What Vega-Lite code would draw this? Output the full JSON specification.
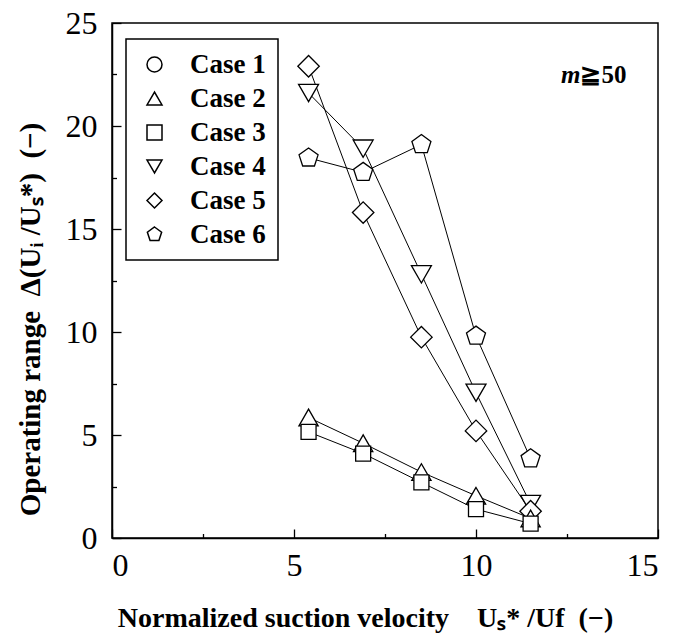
{
  "$schema": "https://vega.github.io/schema/vega-lite/v6.json",
  "autosize": {"type": "none"},
  "padding": {"left": 112, "top": 23, "right": 16, "bottom": 101},
  "width": 546,
  "height": 515,
  "background": "white",
  "config": {
    "view": {"stroke": "black", "strokeWidth": 1.5},
    "axis": {
      "grid": false,
      "domainColor": "black",
      "domainWidth": 1.5,
      "tickColor": "black",
      "tickWidth": 1.3,
      "tickSize": {"condition": {"test": "datum.value % 5 == 0", "value": -9}, "value": -4.5},
      "labelFont": "Liberation Serif",
      "labelFontSize": 32,
      "labelColor": "black",
      "titleFont": "Liberation Serif",
      "titleFontWeight": "bold",
      "titleFontSize": 28,
      "titleColor": "black"
    },
    "legend": {
      "orient": "none",
      "legendX": 14,
      "legendY": 16,
      "strokeColor": "black",
      "strokeWidth": 1.5,
      "fillColor": "white",
      "padding": 12,
      "symbolSize": 225,
      "symbolOffset": 3,
      "labelOffset": 22,
      "labelFont": "Liberation Serif",
      "labelFontWeight": "bold",
      "labelFontSize": 27,
      "labelColor": "black",
      "rowPadding": 6
    }
  },
  "datasets": {
    "pts": [
      {"case": "Case 6", "u": 5.4, "range": 18.45},
      {"case": "Case 6", "u": 6.9, "range": 17.75},
      {"case": "Case 6", "u": 8.5, "range": 19.1},
      {"case": "Case 6", "u": 10.0, "range": 9.8},
      {"case": "Case 6", "u": 11.5, "range": 3.85},
      {"case": "Case 4", "u": 5.4, "range": 21.6},
      {"case": "Case 4", "u": 6.9, "range": 18.9},
      {"case": "Case 4", "u": 8.5, "range": 12.8},
      {"case": "Case 4", "u": 10.0, "range": 7.05},
      {"case": "Case 4", "u": 11.5, "range": 1.65},
      {"case": "Case 5", "u": 5.4, "range": 22.9},
      {"case": "Case 5", "u": 6.9, "range": 15.8},
      {"case": "Case 5", "u": 8.5, "range": 9.75},
      {"case": "Case 5", "u": 10.0, "range": 5.2},
      {"case": "Case 5", "u": 11.5, "range": 1.3},
      {"case": "Case 2", "u": 5.4, "range": 5.85},
      {"case": "Case 2", "u": 6.9, "range": 4.6},
      {"case": "Case 2", "u": 8.5, "range": 3.2},
      {"case": "Case 2", "u": 10.0, "range": 2.05},
      {"case": "Case 2", "u": 11.5, "range": 0.95},
      {"case": "Case 3", "u": 5.4, "range": 5.15},
      {"case": "Case 3", "u": 6.9, "range": 4.1},
      {"case": "Case 3", "u": 8.5, "range": 2.7},
      {"case": "Case 3", "u": 10.0, "range": 1.4},
      {"case": "Case 3", "u": 11.5, "range": 0.7}
    ]
  },
  "encoding": {
    "x": {
      "field": "u", "type": "quantitative",
      "scale": {"domain": [0, 15], "nice": false, "zero": false},
      "axis": {
        "values": [0, 2.5, 5, 7.5, 10, 12.5, 15],
        "labelExpr": "datum.value % 5 == 0 ? datum.label : ''",
        "labelPadding": 21,
        "title": "Normalized suction velocity\u2003Uₛ* /Uf\u2002(−)",
        "titleX": 253,
        "titleY": 80,
        "titleBaseline": "middle"
      }
    },
    "y": {
      "field": "range", "type": "quantitative",
      "scale": {"domain": [0, 25], "nice": false},
      "axis": {
        "values": [0, 2.5, 5, 7.5, 10, 12.5, 15, 17.5, 20, 22.5, 25],
        "labelExpr": "datum.value % 5 == 0 ? datum.label : ''",
        "labelPadding": 24,
        "title": "Operating range\u2002Δ(Uᵢ /Uₛ*)\u2002(−)",
        "titleFontSize": 29,
        "titleX": -82,
        "titleY": 296,
        "titleAngle": -90,
        "titleAlign": "center",
        "titleBaseline": "middle"
      }
    }
  },
  "layer": [
    {
      "data": {"name": "pts"},
      "mark": {"type": "line", "color": "black", "strokeWidth": 1},
      "encoding": {
        "detail": {"field": "case"}
      }
    },
    {
      "data": {"name": "pts"},
      "transform": [{"filter": "datum.case == 'Case 6'"}],
      "mark": {"type": "point", "filled": false, "color": "black", "fill": "white", "fillOpacity": 1, "strokeWidth": 1.3, "size": 400},
      "encoding": {
        "shape": {
          "field": "case", "type": "nominal",
          "scale": {
            "domain": ["Case 1", "Case 2", "Case 3", "Case 4", "Case 5", "Case 6"],
            "range": ["circle", "triangle-up", "square", "triangle-down", "diamond", "M0,-1L0.951,-0.309L0.588,0.809L-0.588,0.809L-0.951,-0.309Z"]
          },
          "legend": {"title": null}
        }
      }
    },
    {
      "data": {"name": "pts"},
      "transform": [{"filter": "datum.case == 'Case 4'"}],
      "mark": {"type": "point", "filled": false, "color": "black", "fill": "white", "fillOpacity": 1, "strokeWidth": 1.3, "size": 400},
      "encoding": {"shape": {"field": "case", "type": "nominal"}}
    },
    {
      "data": {"name": "pts"},
      "transform": [{"filter": "datum.case == 'Case 5'"}],
      "mark": {"type": "point", "filled": false, "color": "black", "fill": "white", "fillOpacity": 1, "strokeWidth": 1.3, "size": 460},
      "encoding": {"shape": {"field": "case", "type": "nominal"}}
    },
    {
      "data": {"name": "pts"},
      "transform": [{"filter": "datum.case == 'Case 2'"}],
      "mark": {"type": "point", "filled": false, "color": "black", "fill": "white", "fillOpacity": 1, "strokeWidth": 1.3, "size": 370},
      "encoding": {"shape": {"field": "case", "type": "nominal"}}
    },
    {
      "data": {"name": "pts"},
      "transform": [{"filter": "datum.case == 'Case 3'"}],
      "mark": {"type": "point", "filled": false, "color": "black", "fill": "white", "fillOpacity": 1, "strokeWidth": 1.3, "size": 225},
      "encoding": {"shape": {"field": "case", "type": "nominal"}}
    },
    {
      "data": {"values": [{"u": 12.87, "range": 22.5, "t": "m"}]},
      "mark": {"type": "text", "align": "right", "baseline": "middle", "font": "Liberation Serif", "fontStyle": "italic", "fontWeight": "bold", "fontSize": 25, "color": "black"},
      "encoding": {
        "text": {"field": "t"}
      }
    },
    {
      "data": {"values": [{"u": 12.87, "range": 22.5, "t": "≧50"}]},
      "mark": {"type": "text", "align": "left", "baseline": "middle", "font": "Liberation Serif", "fontWeight": "bold", "fontSize": 25, "color": "black"},
      "encoding": {
        "text": {"field": "t"}
      }
    }
  ]
}
